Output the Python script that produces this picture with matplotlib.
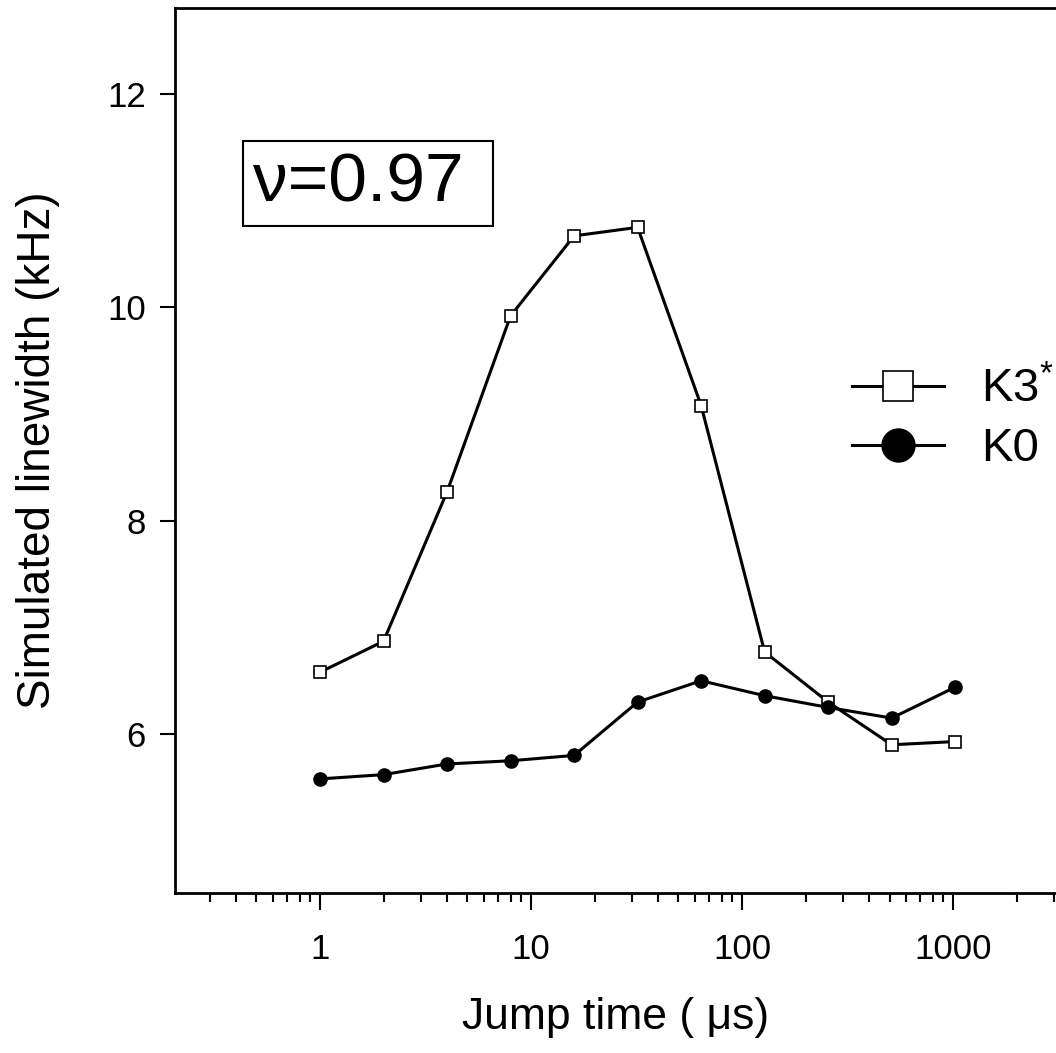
import matplotlib
matplotlib.use("Agg")
import matplotlib.pyplot as plt
import numpy as np

plt.rcParams['font.family'] = ['Liberation Sans', 'DejaVu Sans']
plt.rcParams['mathtext.fontset'] = 'custom'
plt.rcParams['mathtext.rm'] = 'Liberation Sans'
plt.rcParams['mathtext.it'] = 'Liberation Sans'

# jump times (us) and simulated linewidths (kHz)
jump_time = [1, 2, 4, 8, 16, 32, 64, 128, 256, 512, 1024]
k3_star = [6.58, 6.87, 8.27, 9.92, 10.67, 10.75, 9.08, 6.77, 6.30, 5.90, 5.93]
k0 = [5.58, 5.62, 5.72, 5.75, 5.80, 6.30, 6.50, 6.36, 6.25, 6.15, 6.44]

xticks = [1, 10, 100, 1000]
xticklabels = ['1', '10', '100', '1000']
yticks = [6, 8, 10, 12]

fig = plt.figure(figsize=(10.56, 10.53), dpi=100)
ax = fig.add_axes([0.1657, 0.1519, 0.8343, 0.8405])

ax.plot(jump_time, k3_star, color='black', lw=2.2, marker='s', markersize=8.5,
        markerfacecolor='white', markeredgecolor='black', markeredgewidth=1.2,
        label='K3$^{*}$')
ax.plot(jump_time, k0, color='black', lw=2.2, marker='o', markersize=9.5,
        markerfacecolor='black', markeredgecolor='black', label='K0')

ax.set_xscale('log')
ax.set_xlim(0.2055, 3076)
ax.set_ylim(4.51, 12.806)

ax.set_xticks(xticks)
ax.set_xticklabels(xticklabels)
ax.xaxis.set_minor_locator(matplotlib.ticker.LogLocator(base=10, subs=np.arange(2, 10)))
ax.xaxis.set_minor_formatter(matplotlib.ticker.NullFormatter())
ax.set_yticks(yticks)
ax.set_yticklabels([str(v) for v in yticks])

ax.tick_params(axis='x', which='major', direction='out', length=12, width=1.5,
               labelsize=25, pad=17)
ax.tick_params(axis='x', which='minor', direction='out', length=6.5, width=1.5)
ax.tick_params(axis='y', which='major', direction='out', length=11, width=1.5,
               labelsize=25, pad=10)
ax.tick_params(top=False, right=False)

for side in ['left', 'bottom', 'top']:
    ax.spines[side].set_linewidth(2)
ax.spines['right'].set_visible(False)

ax.set_xlabel('Jump time ( \u03bcs)', fontsize=32, labelpad=22)
ax.set_ylabel('Simulated linewidth (kHz)', fontsize=33, labelpad=34)

# trailing space widens the box on the right like the original
ax.text(0.0885, 0.781, '\u03bd=0.97 ', transform=ax.transAxes, fontsize=50,
        va='baseline', ha='left',
        bbox=dict(boxstyle='square,pad=0.15', fc='white', ec='black', lw=1.5))

ax.legend(loc='upper left', bbox_to_anchor=(0.768, 0.594), frameon=False,
          fontsize=34, markerscale=2.5, handlelength=1.95, handletextpad=0.8,
          borderpad=0, borderaxespad=0, labelspacing=0.31)

fig.savefig('out.png', dpi=100)
